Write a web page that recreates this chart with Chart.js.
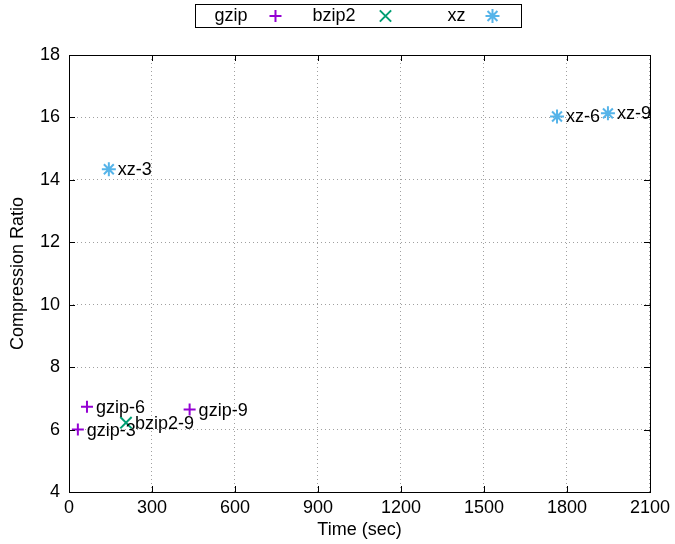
<!DOCTYPE html>
<html>
<head>
<meta charset="utf-8">
<script src="https://cdn.jsdelivr.net/npm/chart.js@4/dist/chart.umd.min.js"></script>
<style>
  body { margin: 0; background: #fff; }
</style>
</head>
<body>
<canvas id="mycanvas" width="675" height="544"></canvas>
<script>
// values
var gzipNames = ['gzip-3', 'gzip-6', 'gzip-9'];
var gzipTime = [32, 65, 436];
var gzipRatio = [6.0, 6.73, 6.64];

var bzip2Names = ['bzip2-9'];
var bzip2Time = [206];
var bzip2Ratio = [6.22];

var xzNames = ['xz-3', 'xz-6', 'xz-9'];
var xzTime = [144, 1764, 1948];
var xzRatio = [14.34, 16.03, 16.13];

var xTicks = [0, 300, 600, 900, 1200, 1500, 1800, 2100];
var yTicks = [4, 6, 8, 10, 12, 14, 16, 18];

var FONT = 'Liberation Sans, Arial, Helvetica, sans-serif';

function toPoints(xs, ys) {
    var pts = [];
    for (var i in xs) {
        pts.push({ x: xs[i], y: ys[i] });
    }
    return pts;
}

function makeSet(label, xs, ys, names, color, style, radius) {
    return {
        label: label,
        data: toPoints(xs, ys),
        names: names,
        pointStyle: style,
        pointRadius: radius,
        pointBorderWidth: 2,
        borderColor: color,
        backgroundColor: color,
        showLine: false
    };
}

// gnuplot style frame: box + inward ticks, point labels, key on top
var gnuplotLook = {
    id: 'gnuplotLook',
    afterDatasetsDraw: function (chart) {
        var ctx = chart.ctx;
        var a = chart.chartArea;
        var xs = chart.scales.x, ys = chart.scales.y;
        ctx.save();
        ctx.strokeStyle = '#000';
        ctx.lineWidth = 1;
        ctx.beginPath();
        xTicks.forEach(function (v) {
            var px = Math.round(xs.getPixelForValue(v)) + 0.5;
            ctx.moveTo(px, a.bottom); ctx.lineTo(px, a.bottom - 6);
            ctx.moveTo(px, a.top); ctx.lineTo(px, a.top + 6);
        });
        yTicks.forEach(function (v) {
            var py = Math.round(ys.getPixelForValue(v)) + 0.5;
            ctx.moveTo(a.left, py); ctx.lineTo(a.left + 6, py);
            ctx.moveTo(a.right, py); ctx.lineTo(a.right - 6, py);
        });
        ctx.stroke();
        ctx.strokeRect(Math.round(a.left) + 0.5, Math.round(a.top) + 0.5,
            Math.round(a.right - a.left), Math.round(a.bottom - a.top));

        // point labels
        ctx.fillStyle = '#000';
        ctx.font = '18px ' + FONT;
        ctx.textAlign = 'left';
        ctx.textBaseline = 'middle';
        chart.data.datasets.forEach(function (ds, di) {
            var meta = chart.getDatasetMeta(di);
            meta.data.forEach(function (el, i) {
                ctx.fillText(ds.names[i], el.x + 9, el.y + 1);
            });
        });

        // key
        var cx = (a.left + a.right) / 2;
        ctx.strokeRect(Math.round(cx - 164) + 0.5, 4.5, 326, 23);
        var textRight = [-112, -4, 106];
        var markX = [-84, 26, 133];
        ctx.textAlign = 'right';
        chart.data.datasets.forEach(function (ds, di) {
            ctx.fillStyle = '#000';
            ctx.fillText(ds.label, cx + textRight[di], 16);
            ctx.strokeStyle = ds.borderColor;
            ctx.fillStyle = ds.borderColor;
            ctx.lineWidth = 2;
            Chart.helpers.drawPoint(ctx, {
                pointStyle: ds.pointStyle,
                radius: ds.pointRadius,
                rotation: 0,
                borderWidth: 2
            }, cx + markX[di], 16);
        });
        ctx.restore();
    }
};

var chartdata = {
    datasets: [
        makeSet('gzip', gzipTime, gzipRatio, gzipNames, '#9400D3', 'cross', 6),
        makeSet('bzip2', bzip2Time, bzip2Ratio, bzip2Names, '#009E73', 'crossRot', 8),
        makeSet('xz', xzTime, xzRatio, xzNames, '#56B4E9', 'star', 7)
    ]
};

var ctx = document.getElementById('mycanvas');

var scatter = new Chart(ctx, {
    type: 'scatter',
    data: chartdata,
    plugins: [gnuplotLook],
    options: {
        responsive: false,
        animation: false,
        layout: { padding: { left: 0, right: 24, top: 55, bottom: 0 } },
        plugins: {
            legend: { display: false },
            tooltip: { enabled: false }
        },
        scales: {
            x: {
                type: 'linear',
                min: 0,
                max: 2100,
                afterBuildTicks: function (scale) {
                    scale.ticks = xTicks.map(function (v) { return { value: v }; });
                },
                afterFit: function (scale) { scale.height = 52; },
                ticks: {
                    color: '#000', font: { family: FONT, size: 18 }, padding: 5, maxRotation: 0,
                    callback: function (v) { return String(v); }
                },
                grid: { color: '#a0a0a0', drawTicks: false },
                border: { display: false, dash: [1, 3] },
                title: {
                    display: true,
                    text: 'Time (sec)',
                    color: '#000',
                    font: { family: FONT, size: 18 },
                    padding: { top: 0, bottom: 3 }
                }
            },
            y: {
                min: 4,
                max: 18,
                afterBuildTicks: function (scale) {
                    scale.ticks = yTicks.map(function (v) { return { value: v }; });
                },
                afterFit: function (scale) { scale.width = 69; },
                ticks: {
                    color: '#000', font: { family: FONT, size: 18 }, padding: 9,
                    callback: function (v) { return String(v); }
                },
                grid: { color: '#a0a0a0', drawTicks: false },
                border: { display: false, dash: [1, 3] },
                title: {
                    display: true,
                    text: 'Compression Ratio',
                    color: '#000',
                    font: { family: FONT, size: 18 },
                    padding: { top: 7, bottom: 0 }
                }
            }
        }
    }
});
</script>
</body>
</html>
